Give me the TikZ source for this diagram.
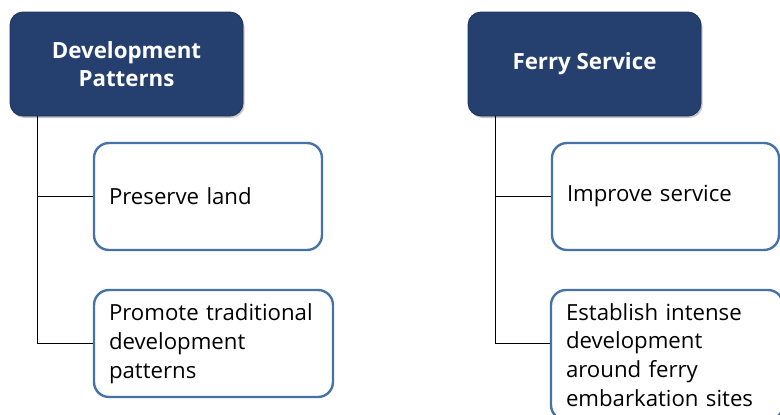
\documentclass[tikz,border=0pt]{standalone}
\usepackage{fontspec}
\setmainfont{Open Sans}
\usetikzlibrary{shadows}
\definecolor{navy}{RGB}{37,63,111}
\definecolor{steel}{RGB}{70,114,165}
\begin{document}
\begin{tikzpicture}[x=1pt,y=-1pt,
  head/.style={rectangle, rounded corners=13pt, fill=navy, draw=navy!80!black, line width=0.8pt,
    drop shadow={opacity=0.45, shadow xshift=1.5pt, shadow yshift=-2pt},
    text=white, font=\fontsize{22.3}{28}\selectfont\bfseries, align=center,
    minimum width=233pt, minimum height=104pt, inner sep=0pt},
  leaf/.style={rectangle, rounded corners=15pt, draw=steel, line width=2.4pt, fill=white,
    font=\fontsize{22.2}{28.8}\selectfont, align=left, inner xsep=15pt, inner ysep=0pt,
    minimum height=107pt},
  conn/.style={draw=black, line width=0.8pt}]
\useasboundingbox (0,0) rectangle (780,415);
\clip (0,0) rectangle (780,415);
\node[head] (h1) at (126.5,64) {Development\\Patterns};
\node[head] (h2) at (584.5,64) {Ferry Service};
\node[leaf, text width=198pt] (a1) at (208,196.5) {Preserve land};
\node[leaf, text width=209pt] (a2) at (213.5,343.5) {Promote traditional\\development\\patterns};
\node[leaf, text width=197pt] (b1) at (665.5,196.5) {Improve service};
\node[leaf, text width=202pt, minimum height=130pt] (b2) at (667,355) {Establish intense\\development\\around ferry\\embarkation sites};
\coordinate (v1) at (37,116);
\coordinate (v2) at (495,116);
\draw[conn] (v1) |- (a2.west);
\draw[conn] (a1.west) -- (a1.west -| v1);
\draw[conn] (v2) |- (b2.west |- 0,343);
\draw[conn] (b1.west) -- (b1.west -| v2);
\end{tikzpicture}
\end{document}
